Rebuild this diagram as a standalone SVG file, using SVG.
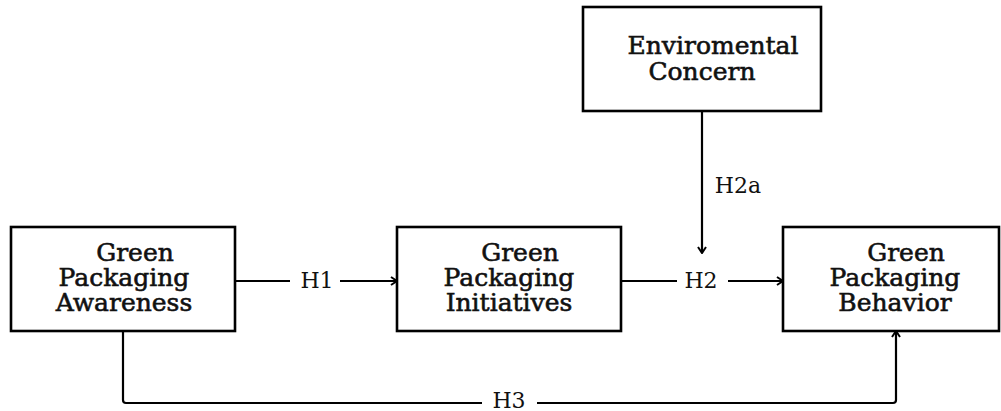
<svg xmlns="http://www.w3.org/2000/svg" width="1001" height="411" viewBox="0 0 1001 411">
<style>
.box{fill:#fff;stroke:#000;stroke-width:2.6}
.lbl{font-family:"DejaVu Serif","Liberation Serif",serif;font-size:25px;fill:#111;stroke:#111;stroke-width:0.6;text-anchor:middle}
.edge{font-family:"DejaVu Serif","Liberation Serif",serif;font-size:22px;fill:#111;text-anchor:middle}
.ln{fill:none;stroke:#000;stroke-width:2.2;stroke-linejoin:round}
</style>
<defs>
<marker id="arr" viewBox="0 0 10 10" refX="9" refY="5" markerWidth="10" markerHeight="10" markerUnits="userSpaceOnUse" orient="auto">
<polyline points="3,1 9,5 3,9" fill="none" stroke="#000" stroke-width="2"/>
</marker>
</defs>
<rect width="1001" height="411" fill="#fff"/>
<g id="connectors">
<line class="ln" x1="235" y1="281" x2="290" y2="281"/>
<line class="ln" x1="340" y1="281" x2="397" y2="281" marker-end="url(#arr)"/>
<text class="edge" x="317" y="288">H1</text>
<line class="ln" x1="621" y1="281" x2="677" y2="281"/>
<line class="ln" x1="728" y1="281" x2="783" y2="281" marker-end="url(#arr)"/>
<text class="edge" x="701" y="288">H2</text>
<line class="ln" x1="702" y1="111" x2="702" y2="253" marker-end="url(#arr)"/>
<text class="edge" x="738" y="193">H2a</text>
<path class="ln" d="M123,331 V400 Q123,403 126,403 H482"/>
<path class="ln" d="M537,403 H893 Q896,403 896,400 V331" marker-end="url(#arr)"/>
<text class="edge" x="509" y="408">H3</text>
</g>
<g id="awareness">
<rect class="box" x="11" y="227" width="224" height="104"/>
<text class="lbl" x="135" y="261">Green</text>
<text class="lbl" x="124" y="286">Packaging</text>
<text class="lbl" x="124" y="311">Awareness</text>
</g>
<g id="initiatives">
<rect class="box" x="397" y="227" width="224" height="104"/>
<text class="lbl" x="520" y="261">Green</text>
<text class="lbl" x="509" y="286">Packaging</text>
<text class="lbl" x="509" y="311">Initiatives</text>
</g>
<g id="behavior">
<rect class="box" x="783" y="227" width="216" height="104"/>
<text class="lbl" x="906" y="261">Green</text>
<text class="lbl" x="895" y="286">Packaging</text>
<text class="lbl" x="895" y="311">Behavior</text>
</g>
<g id="concern">
<rect class="box" x="583" y="7" width="238" height="104"/>
<text class="lbl" x="713" y="54">Enviromental</text>
<text class="lbl" x="702" y="80">Concern</text>
</g>
</svg>
